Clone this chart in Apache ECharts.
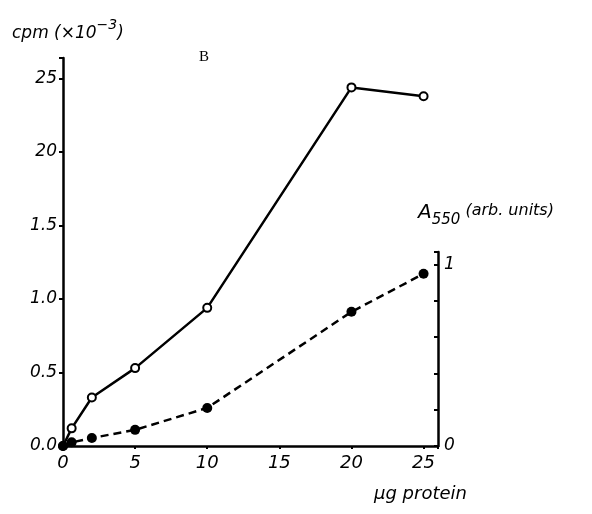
<!DOCTYPE html>
<html><head><meta charset="utf-8">
<script src="https://cdn.jsdelivr.net/npm/echarts@6/dist/echarts.min.js"></script>
<style>html,body{margin:0;padding:0;background:#fff}#c{width:592px;height:514px}</style>
</head><body><div id="c"></div>
<script>
const protein = [0, 0.6, 2, 5, 10, 20, 25];
const cpm = [0, 0.12, 0.33, 0.53, 0.94, 2.44, 2.38];
const a550 = [0, 0.02, 0.044, 0.089, 0.21, 0.74, 0.95];
const xTicks = [0, 5, 10, 15, 20, 25];
const cpmTickLabels = {0: '0.0', 0.5: '0.5', 1: '1.0', 1.5: '1.5', 2: '20', 2.5: '25'};
const a550TickLabels = {0: '0', 1: '1'};

const font = 'DejaVu Sans';
const chart = echarts.init(document.getElementById('c'));
const lbl = {color: '#000', fontFamily: font, fontStyle: 'italic', fontSize: 17};
chart.setOption({
  animation: false,
  grid: [
    {left: 63, right: 154, top: 58, bottom: 68},
    {left: 63, right: 154, top: 252, bottom: 68}
  ],
  xAxis: [
    {gridIndex: 0, type: 'value', min: 0, max: 26, interval: 5,
     axisLine: {lineStyle: {color: '#000', width: 2.5}},
     axisTick: {show: true, length: 3, lineStyle: {color: '#000', width: 2}},
     splitLine: {show: false},
     axisLabel: Object.assign({}, lbl, {margin: 8, fontSize: 18,
       formatter: v => xTicks.includes(v) ? String(v) : ''})},
    {gridIndex: 1, type: 'value', min: 0, max: 26, show: false}
  ],
  yAxis: [
    {gridIndex: 0, type: 'value', min: 0, max: 2.64, interval: 0.5,
     axisLine: {show: true, onZero: false, lineStyle: {color: '#000', width: 2.5}},
     axisTick: {show: true, length: 4, lineStyle: {color: '#000', width: 2}},
     splitLine: {show: false},
     axisLabel: Object.assign({}, lbl, {margin: 6,
       formatter: v => cpmTickLabels[Math.round(v*10)/10] || ''})},
    {gridIndex: 1, type: 'value', position: 'right', min: 0, max: 1.07, interval: 0.2,
     axisLine: {show: true, onZero: false, lineStyle: {color: '#000', width: 2.5}},
     axisTick: {show: true, inside: true, length: 4, lineStyle: {color: '#000', width: 2}},
     splitLine: {show: false},
     axisLabel: Object.assign({}, lbl, {margin: 6,
       formatter: v => a550TickLabels[Math.round(v*10)/10] || ''})}
  ],
  series: [
    {type: 'line', xAxisIndex: 0, yAxisIndex: 0,
     data: protein.map((x, i) => [x, cpm[i]]),
     symbol: 'circle', symbolSize: 8, showAllSymbol: true,
     lineStyle: {color: '#000', width: 2.5},
     itemStyle: {color: '#fff', borderColor: '#000', borderWidth: 2}, z: 3},
    {type: 'line', xAxisIndex: 1, yAxisIndex: 1,
     data: protein.map((x, i) => [x, a550[i]]),
     symbol: 'circle', symbolSize: 10, showAllSymbol: true,
     lineStyle: {color: '#000', width: 2.5, type: [8, 5]},
     itemStyle: {color: '#000'}, z: 3}
  ],
  graphic: [
    {type: 'text', left: 12, top: 18, style: {
      text: '{a|cpm (×10}{s|−3}{a|)}',
      rich: {a: {fontFamily: font, fontStyle: 'italic', fontSize: 17, fill: '#000', verticalAlign: 'bottom'},
             s: {fontFamily: font, fontStyle: 'italic', fontSize: 14, fill: '#000', padding: [0, 0, 10, 0], verticalAlign: 'bottom'}}}},
    {type: 'text', left: 199, top: 50, style: {text: 'B', font: '15px "Liberation Serif"', fill: '#000'}},
    {type: 'text', left: 418, top: 203, style: {
      text: '{a|A}{s|550}{b| (arb. units)}',
      rich: {a: {fontFamily: font, fontStyle: 'italic', fontSize: 20, fill: '#000'},
             s: {fontFamily: font, fontStyle: 'italic', fontSize: 15, fill: '#000', padding: [14, 0, 0, 0]},
             b: {fontFamily: font, fontStyle: 'italic', fontSize: 16, fill: '#000', padding: [0, 0, 4, 0]}}}},
    {type: 'text', left: 374, top: 485, style: {text: 'µg protein', font: 'italic 18px "DejaVu Sans"', fill: '#000'}}
  ]
});
</script></body></html>
